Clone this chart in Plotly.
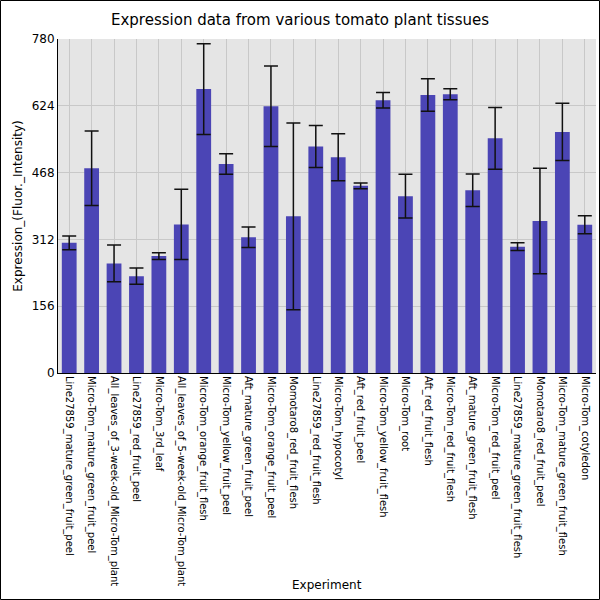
import plotly.graph_objects as go

experiments = [
    "Line27859_mature_green_fruit_peel",
    "Micro-Tom_mature_green_fruit_peel",
    "All_leaves_of_3-week-old_Micro-Tom_plant",
    "Line27859_red_fruit_peel",
    "Micro-Tom_3rd_leaf",
    "All_leaves_of_5-week-old_Micro-Tom_plant",
    "Micro-Tom_orange_fruit_flesh",
    "Micro-Tom_yellow_fruit_peel",
    "Aft_mature_green_fruit_peel",
    "Micro-Tom_orange_fruit_peel",
    "Momotaro8_red_fruit_flesh",
    "Line27859_red_fruit_flesh",
    "Micro-Tom_hypocotyl",
    "Aft_red_fruit_peel",
    "Micro-Tom_yellow_fruit_flesh",
    "Micro-Tom_root",
    "Aft_red_fruit_flesh",
    "Micro-Tom_red_fruit_flesh",
    "Aft_mature_green_fruit_flesh",
    "Micro-Tom_red_fruit_peel",
    "Line27859_mature_green_fruit_flesh",
    "Momotaro8_red_fruit_peel",
    "Micro-Tom_mature_green_fruit_flesh",
    "Micro-Tom_cotyledon",
]

expression = [304, 478, 256, 226, 273, 347, 663, 488, 317, 623, 366, 529,
              504, 437, 637, 413, 649, 651, 427, 548, 295, 355, 563, 346]

error = [16, 87, 43, 19, 8, 82, 106, 24, 24, 94, 218, 49,
         55, 7, 18, 51, 38, 13, 38, 72, 9, 123, 67, 21]

y_ticks = [0, 156, 312, 468, 624, 780]

fig = go.Figure()
fig.add_trace(
    go.Bar(
        x=experiments,
        y=expression,
        marker=dict(color="#4b45b5", line=dict(width=0)),
        error_y=dict(type="data", array=error, visible=True,
                     color="#111111", thickness=1.5, width=7),
    )
)

fig.update_layout(
    width=600,
    height=600,
    margin=dict(l=58, r=4, t=39, b=227),
    paper_bgcolor="white",
    plot_bgcolor="#e5e5e5",
    bargap=0.34,
    showlegend=False,
    font=dict(family="DejaVu Sans", color="black"),
    title=dict(
        text="Expression data from various tomato plant tissues",
        x=0.5, xref="container", xanchor="center",
        y=1 - 20 / 600, yanchor="middle",
        font=dict(size=15),
    ),
    shapes=[
        dict(type="rect", xref="paper", yref="paper",
             x0=-57.5 / 538, x1=1 + 3.5 / 538,
             y0=-226.5 / 334, y1=1 + 38.5 / 334,
             line=dict(color="black", width=1), layer="above"),
    ],
    annotations=[
        dict(text="Experiment", xref="paper", yref="paper",
             x=0.5, y=-212 / 334, xanchor="center", yanchor="middle",
             showarrow=False, font=dict(size=12)),
    ],
)

fig.update_xaxes(
    automargin=False,
    tickangle=90,
    tickfont=dict(size=10),
    showgrid=True, gridcolor="#c8c8c8", gridwidth=1,
    showline=True, linecolor="black", linewidth=1,
    ticks="",
)

fig.update_yaxes(
    automargin=False,
    title=dict(text="Expression_(Fluor._Intensity)", font=dict(size=12), standoff=6),
    range=[0, 780],
    tickvals=y_ticks,
    tickfont=dict(size=12),
    showgrid=True, gridcolor="#c8c8c8", gridwidth=1,
    showline=True, linecolor="black", linewidth=1,
    zeroline=False,
    ticks="",
)

fig.write_html("out.html", config={"displayModeBar": False},
               post_script="document.body.style.margin='0';")
